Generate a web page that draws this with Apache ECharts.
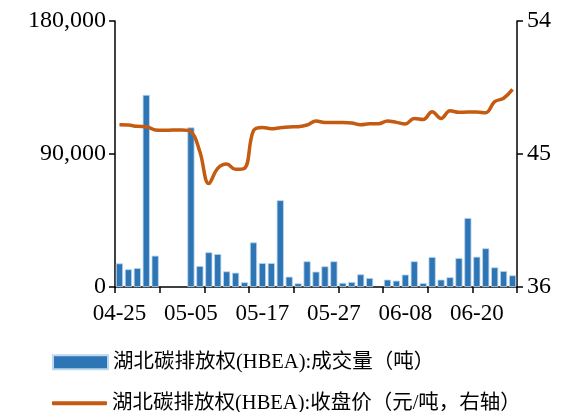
<!DOCTYPE html>
<html>
<head>
<meta charset="utf-8">
<script src="https://cdn.jsdelivr.net/npm/echarts@6/dist/echarts.min.js"></script>
<style>html,body{margin:0;padding:0;background:#fff;}#c{width:565px;height:412px;}</style>
</head>
<body>
<div id="c"></div>
<script>
const dates = ["04-25","04-26","04-27","04-28","04-29","05-02","05-03","05-04","05-05","05-06","05-09","05-10","05-11","05-12","05-13","05-16","05-17","05-18","05-19","05-20","05-23","05-24","05-25","05-26","05-27","05-30","05-31","06-01","06-02","06-03","06-06","06-07","06-08","06-09","06-10","06-13","06-14","06-15","06-16","06-17","06-20","06-21","06-22","06-23","06-24"];
const volume = [16000,12000,12800,130000,21200,null,null,null,108000,14200,23500,22300,10600,9700,3200,30200,16200,16200,58700,7000,2500,17400,10400,14000,17400,2800,3400,8600,6100,null,5000,4300,8400,17400,2600,20300,5000,6600,19600,46700,20500,26200,13300,10800,7900];
const price = [46.98,46.96,46.87,46.85,46.62,46.6,46.62,46.62,46.51,45.15,43.0,44.03,44.32,43.96,44.03,46.58,46.8,46.71,46.78,46.83,46.85,46.96,47.23,47.14,47.14,47.14,47.1,46.98,47.05,47.05,47.23,47.14,47.03,47.41,47.34,47.86,47.41,47.93,47.82,47.84,47.84,47.79,48.54,48.77,49.37];
const leftTicks = [0, 90000, 180000];
const rightTicks = [36, 45, 54];
const volName = "湖北碳排放权(HBEA):成交量（吨）";
const priceName = "湖北碳排放权(HBEA):收盘价（元/吨，右轴）";

const serif = "'Liberation Serif','Times New Roman','Noto Sans CJK SC',serif";
const chart = echarts.init(document.getElementById('c'), null, {renderer:'canvas'});
const axisLine = {show:true, lineStyle:{color:'#000', width:1.5}};
const legendText = {fontFamily:serif, fontSize:20.5, color:'#000'};
chart.setOption({
  animation:false,
  textStyle:{fontFamily:serif},
  grid:{left:115, right:48, top:21, bottom:125, containLabel:false},
  legend:[{
    orient:'horizontal', left:52, top:352, itemWidth:55, itemHeight:14, itemGap:10, padding:0,
    textStyle:legendText,
    data:[{name:volName, icon:'rect'}]
  },{
    orient:'horizontal', left:52, top:393, itemWidth:55, itemHeight:4, itemGap:10, padding:0,
    textStyle:legendText,
    data:[{name:priceName, icon:'roundRect', itemStyle:{color:'#C55A11'}}]
  }],
  xAxis:{
    type:'category', data:dates, boundaryGap:true,
    axisLine:axisLine,
    axisTick:{show:true, interval:4, length:6, inside:false, lineStyle:{color:'#000', width:1.5}},
    axisLabel:{interval:7, margin:15, fontSize:23, color:'#000', fontFamily:serif}
  },
  yAxis:[{
    type:'value', min:leftTicks[0], max:leftTicks[2], interval:leftTicks[1]-leftTicks[0],
    axisLine:axisLine,
    axisTick:{show:true, length:6, lineStyle:{color:'#000', width:1.5}},
    splitLine:{show:false},
    axisLabel:{margin:9, fontSize:24, color:'#000', fontFamily:serif,
      formatter:v=>v.toString().replace(/\B(?=(\d{3})+(?!\d))/g, ',')}
  },{
    type:'value', min:rightTicks[0], max:rightTicks[2], interval:rightTicks[1]-rightTicks[0],
    position:'right',
    axisLine:axisLine,
    axisTick:{show:true, length:6, lineStyle:{color:'#000', width:1.5}},
    splitLine:{show:false},
    axisLabel:{margin:10, fontSize:24, color:'#000', fontFamily:serif}
  }],
  series:[{
    name:volName, type:'bar', data:volume, yAxisIndex:0,
    barCategoryGap:'20%',
    itemStyle:{color:'#2E75B6', borderColor:'#BDD7EE', borderWidth:0.8}
  },{
    name:priceName, type:'line', data:price, yAxisIndex:1,
    smooth:0.4, symbol:'none', showSymbol:false,
    lineStyle:{color:'#C55A11', width:3.5},
    itemStyle:{color:'#C55A11'}
  }]
});
</script>
</body>
</html>
